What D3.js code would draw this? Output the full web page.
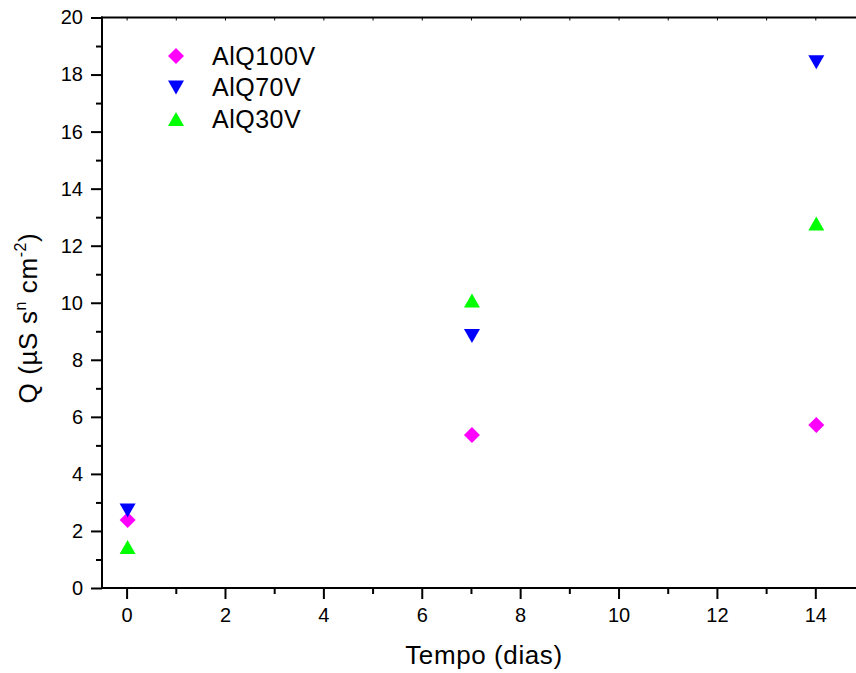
<!DOCTYPE html>
<html>
<head>
<meta charset="utf-8">
<script src="https://cdn.jsdelivr.net/npm/d3@7"></script>
<style>
  body { margin: 0; background: #fff; }
  svg { display: block; font-family: "Liberation Sans", Arial, sans-serif; }
</style>
</head>
<body>
<svg id="canvas"></svg>
<script>
'use strict';

var days = [0, 7, 14];
var seriesNames = ['AlQ100V', 'AlQ70V', 'AlQ30V'];
var alq100v = [2.38, 5.36, 5.71];
var alq70v = [2.72, 8.83, 18.43];
var alq30v = [1.44, 10.08, 12.78];
var yTicks = [0, 2, 4, 6, 8, 10, 12, 14, 16, 18, 20];
var xTicks = [0, 2, 4, 6, 8, 10, 12, 14];

var WIDTH = 856, HEIGHT = 673;
var LEFT = 102, TOP = 17.5, BOTTOM = 588, RIGHT = 864.5;

function GetSeries() {
  return [
    {name: seriesNames[0], values: alq100v, color: '#ff00ff', shape: 'diamond'},
    {name: seriesNames[1], values: alq70v, color: '#0000ff', shape: 'down'},
    {name: seriesNames[2], values: alq30v, color: '#00ff00', shape: 'up'},
  ];
}

function MarkerPath(shape) {
  switch (shape) {
    case 'diamond': return 'M0,-8L8,0L0,8L-8,0Z';
    case 'down': return 'M-8,-7L8,-7L0,7Z';
    case 'up': return 'M-8,7L8,7L0,-7Z';
  }
}

function RenderGraph() {
  var svg = d3.select('#canvas')
      .attr('width', WIDTH)
      .attr('height', HEIGHT);

  var x = d3.scaleLinear().domain([-0.5, 15]).range([LEFT, RIGHT]);
  var y = d3.scaleLinear().domain([0, 20]).range([BOTTOM, TOP]);

  var minorX = d3.range(0, 15, 1).filter(function(v) { return v % 2 !== 0; });
  var minorY = d3.range(1, 20, 2);

  function styleAxis(g) {
    g.selectAll('.domain').remove();
    g.selectAll('line').attr('stroke', '#000').attr('stroke-width', 2);
    g.selectAll('text')
      .attr('fill', '#000')
      .attr('font-size', 20)
      .attr('font-family', '"Liberation Sans", Arial, sans-serif');
  }

  // minor ticks
  svg.append('g')
      .attr('transform', 'translate(' + LEFT + ',0)')
      .call(d3.axisLeft(y).tickValues(minorY).tickSize(6).tickFormat(''))
      .call(styleAxis);
  svg.append('g')
      .attr('transform', 'translate(0,' + BOTTOM + ')')
      .call(d3.axisBottom(x).tickValues(minorX).tickSize(6).tickFormat(''))
      .call(styleAxis);

  // major ticks
  svg.append('g')
      .attr('transform', 'translate(' + LEFT + ',0)')
      .call(d3.axisLeft(y).tickValues(yTicks).tickSize(11).tickPadding(8))
      .call(styleAxis);
  svg.append('g')
      .attr('transform', 'translate(0,' + BOTTOM + ')')
      .call(d3.axisBottom(x).tickValues(xTicks).tickSize(11).tickPadding(9))
      .call(styleAxis);

  // top axis, tiny ticks
  svg.append('g')
      .attr('transform', 'translate(0,' + TOP + ')')
      .call(d3.axisTop(x).tickValues(d3.range(0, 15, 1)).tickSize(-3).tickFormat(''))
      .call(styleAxis)
      .selectAll('line').attr('stroke-width', 1);

  // frame
  svg.append('line')
      .attr('x1', LEFT).attr('x2', LEFT)
      .attr('y1', TOP - 1).attr('y2', BOTTOM + 1)
      .attr('stroke', '#000').attr('stroke-width', 2);
  svg.append('line')
      .attr('x1', LEFT - 1).attr('x2', RIGHT)
      .attr('y1', BOTTOM).attr('y2', BOTTOM)
      .attr('stroke', '#000').attr('stroke-width', 2);
  svg.append('line')
      .attr('x1', LEFT - 1).attr('x2', RIGHT)
      .attr('y1', TOP).attr('y2', TOP)
      .attr('stroke', '#000').attr('stroke-width', 2);
  svg.append('line')
      .attr('x1', RIGHT).attr('x2', RIGHT)
      .attr('y1', TOP).attr('y2', BOTTOM)
      .attr('stroke', '#000').attr('stroke-width', 2);

  // points
  var series = GetSeries();
  series.forEach(function(s) {
    svg.append('g').selectAll('path')
        .data(days)
      .enter().append('path')
        .attr('d', MarkerPath(s.shape))
        .attr('fill', s.color)
        .attr('transform', function(d, i) {
          return 'translate(' + [x(d) + 1, y(s.values[i])] + ')';
        });
  });

  // legend
  var legend = svg.append('g').attr('transform', 'translate(176,56)');
  var item = legend.selectAll('g')
      .data(series)
    .enter().append('g')
      .attr('transform', function(d, i) { return 'translate(0,' + (i * 31.5) + ')'; });
  item.append('path')
      .attr('d', function(d) { return MarkerPath(d.shape); })
      .attr('fill', function(d) { return d.color; });
  item.append('text')
      .attr('x', 36)
      .attr('y', 8.5)
      .attr('font-size', 25)
      .attr('letter-spacing', 0.5)
      .text(function(d) { return d.name; });

  // axis titles
  svg.append('text')
      .attr('x', 484)
      .attr('y', 664)
      .attr('text-anchor', 'middle')
      .attr('font-size', 26)
      .attr('letter-spacing', 0.6)
      .text('Tempo (dias)');

  var yTitle = svg.append('text')
      .attr('transform', 'translate(37,318) rotate(-90)')
      .attr('text-anchor', 'middle')
      .attr('font-size', 26)
      .attr('letter-spacing', 0.6);
  yTitle.append('tspan').text('Q (\u00b5S s');
  yTitle.append('tspan').attr('font-size', 16).attr('dy', -11).text('n');
  yTitle.append('tspan').attr('dy', 11).text(' cm');
  yTitle.append('tspan').attr('font-size', 16).attr('dy', -11).text('-2');
  yTitle.append('tspan').attr('dy', 11).text(')');
}

RenderGraph();
</script>
</body>
</html>
